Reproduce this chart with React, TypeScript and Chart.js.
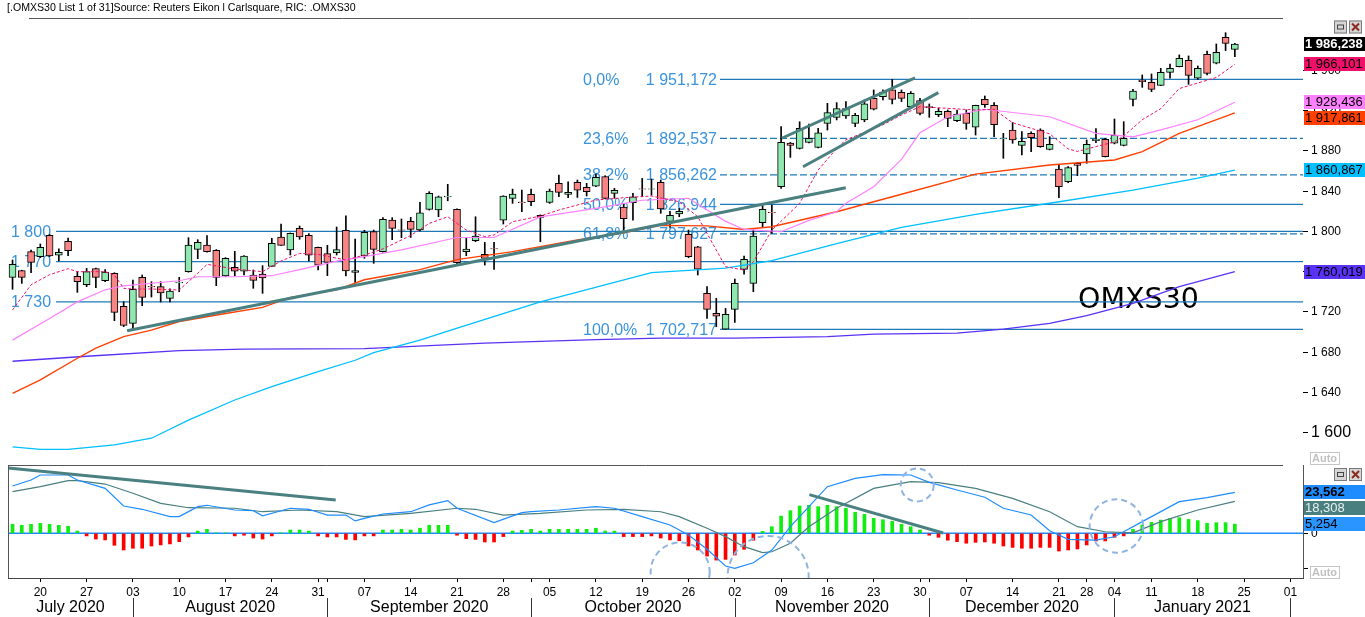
import React, { useEffect, useRef } from 'react';
import { Chart, registerables } from 'chart.js';

Chart.register(...registerables);

// ---------------- categories (trading days) ----------------
const FIRST_DAY = '2020-07-15';
const LAST_AXIS_DAY = '2021-02-03';
const CLOSED_DAYS = ['2020-12-24', '2020-12-25', '2020-12-31', '2021-01-01', '2021-01-06'];
const MONTH_NAMES = ['January', 'February', 'March', 'April', 'May', 'June', 'July', 'August', 'September', 'October', 'November', 'December'];

function buildTradingDays(): string[] {
  const out: string[] = [];
  const d = new Date(FIRST_DAY + 'T00:00:00Z');
  const end = new Date(LAST_AXIS_DAY + 'T00:00:00Z');
  while (d <= end) {
    const wd = d.getUTCDay();
    const iso = d.toISOString().slice(0, 10);
    if (wd !== 0 && wd !== 6 && !CLOSED_DAYS.includes(iso)) out.push(iso);
    d.setUTCDate(d.getUTCDate() + 1);
  }
  return out;
}
const TRADING_DAYS = buildTradingDays();
const X_MIN = -0.49;
const X_MAX = 139.36;

// ---------------- OHLC (index = trading day from 2020-07-15) ----------------
const OPEN = [
  1754.4, 1761.0, 1779.9, 1774.9, 1796.1, 1776.3, 1790.2, 1755.4, 1747.1, 1763.0,
  1751.1, 1758.4, 1725.6, 1708.7, 1754.4, 1745.4, 1745.1, 1733.5, 1749.0, 1760.0,
  1782.2, 1786.5, 1781.2, 1755.7, 1764.3, 1760.4, 1756.7, 1757.7, 1765.3, 1794.5,
  1781.6, 1803.1, 1796.1, 1784.2, 1777.9, 1778.9, 1801.1, 1759.4, 1775.6, 1799.8,
  1779.9, 1811.4, 1801.6, 1810.1, 1801.4, 1821.9, 1821.3, 1834.3, 1821.9, 1779.8,
  1790.8, 1777.2, 1783.0, 1811.3, 1832.9, 1829.1, 1836.8, 1816.0, 1828.9, 1847.8,
  1836.8, 1848.8, 1843.8, 1845.1, 1854.4, 1837.8, 1824.2, 1828.5, 1842.3, 1842.0,
  1848.8, 1810.0, 1817.3, 1797.1, 1784.8, 1738.4, 1718.6, 1703.0, 1722.5, 1762.3,
  1748.4, 1808.7, 1819.1, 1844.4, 1887.8, 1882.5, 1888.5, 1883.5, 1907.4, 1913.4,
  1914.7, 1907.4, 1910.7, 1932.3, 1933.9, 1940.6, 1938.2, 1924.0, 1930.0, 1924.0,
  1916.0, 1919.4, 1910.1, 1917.4, 1903.5, 1931.3, 1925.3, 1892.0, 1900.8, 1885.6,
  1897.5, 1900.8, 1881.6, 1862.0, 1849.5, 1867.7, 1877.0, 1890.2, 1891.5, 1887.6,
  1885.6, 1931.3, 1950.5, 1948.2, 1945.2, 1958.1, 1963.8, 1970.1, 1952.2, 1976.0,
  1967.1, 1992.9, 1981.0,
];
const HIGH = [
  1771.6, 1761.5, 1781.6, 1787.5, 1797.0, 1782.6, 1793.5, 1760.1, 1763.3, 1763.5,
  1762.0, 1759.0, 1730.2, 1751.7, 1756.7, 1750.1, 1750.1, 1743.0, 1754.4, 1793.8,
  1791.8, 1795.8, 1782.0, 1774.0, 1780.2, 1776.0, 1761.7, 1766.0, 1793.2, 1807.4,
  1798.5, 1805.4, 1797.8, 1784.5, 1786.2, 1804.4, 1815.4, 1792.5, 1801.1, 1801.4,
  1813.7, 1813.7, 1812.4, 1814.0, 1828.9, 1839.5, 1835.2, 1846.8, 1822.5, 1793.1,
  1814.6, 1789.1, 1789.1, 1835.5, 1842.1, 1841.1, 1842.1, 1816.5, 1842.1, 1856.0,
  1849.4, 1851.1, 1847.8, 1857.0, 1855.4, 1842.8, 1827.9, 1837.8, 1852.7, 1852.0,
  1851.1, 1820.0, 1822.9, 1801.4, 1785.2, 1745.1, 1733.5, 1723.5, 1752.7, 1775.5,
  1801.4, 1826.2, 1826.2, 1904.1, 1888.5, 1909.0, 1906.7, 1902.4, 1927.3, 1928.0,
  1929.0, 1917.4, 1930.6, 1940.6, 1940.6, 1951.17, 1940.6, 1939.0, 1932.3, 1926.7,
  1922.3, 1920.7, 1920.7, 1920.7, 1925.5, 1934.6, 1928.0, 1897.5, 1908.1, 1899.2,
  1899.0, 1902.0, 1894.2, 1866.7, 1864.4, 1868.7, 1890.9, 1902.1, 1892.5, 1911.7,
  1909.1, 1941.2, 1955.5, 1956.5, 1962.1, 1966.4, 1975.4, 1974.4, 1964.4, 1979.3,
  1986.3, 1997.5, 1986.9,
];
const LOW = [
  1742.5, 1748.4, 1759.0, 1774.0, 1775.0, 1770.6, 1775.9, 1739.5, 1745.1, 1744.1,
  1750.1, 1711.3, 1705.4, 1701.4, 1726.2, 1734.8, 1729.9, 1729.9, 1740.1, 1759.5,
  1772.9, 1779.3, 1746.1, 1755.0, 1755.7, 1756.7, 1743.5, 1738.5, 1765.0, 1786.0,
  1776.6, 1792.2, 1770.6, 1761.7, 1756.1, 1776.6, 1755.7, 1749.4, 1773.3, 1768.3,
  1779.5, 1791.8, 1793.8, 1794.0, 1800.4, 1821.2, 1814.6, 1830.5, 1768.0, 1775.9,
  1789.8, 1766.6, 1762.3, 1807.4, 1827.9, 1819.6, 1825.6, 1789.8, 1827.9, 1834.5,
  1833.5, 1833.8, 1835.2, 1844.4, 1832.5, 1832.9, 1801.4, 1811.3, 1834.5, 1836.0,
  1818.0, 1804.0, 1814.6, 1773.9, 1756.7, 1713.6, 1705.3, 1702.717, 1709.6, 1757.6,
  1740.1, 1804.7, 1798.1, 1842.8, 1873.6, 1881.9, 1888.0, 1883.0, 1900.8, 1910.8,
  1912.4, 1904.1, 1909.0, 1920.7, 1930.6, 1926.7, 1929.0, 1923.3, 1915.7, 1913.4,
  1914.1, 1904.1, 1909.1, 1901.5, 1895.8, 1923.3, 1894.2, 1872.7, 1887.6, 1876.0,
  1879.3, 1883.6, 1881.0, 1833.6, 1848.5, 1855.4, 1867.7, 1888.2, 1874.0, 1887.0,
  1885.0, 1924.7, 1943.2, 1938.9, 1945.0, 1952.2, 1963.5, 1946.2, 1951.2, 1955.5,
  1966.5, 1979.7, 1973.7,
];
const CLOSE = [
  1767.3, 1754.4, 1769.3, 1784.2, 1775.6, 1779.2, 1780.9, 1750.1, 1760.0, 1754.4,
  1759.7, 1719.6, 1706.7, 1742.5, 1734.5, 1744.8, 1738.8, 1740.8, 1749.4, 1786.5,
  1789.2, 1779.9, 1754.4, 1773.3, 1760.4, 1775.6, 1751.4, 1753.7, 1788.2, 1786.2,
  1798.1, 1794.5, 1776.3, 1766.6, 1769.3, 1781.9, 1760.7, 1761.0, 1799.1, 1782.2,
  1812.0, 1803.1, 1801.2, 1802.1, 1818.6, 1837.8, 1834.5, 1834.8, 1768.9, 1782.5,
  1795.4, 1773.2, 1782.6, 1835.2, 1837.2, 1828.7, 1829.5, 1814.0, 1840.1, 1838.8,
  1838.8, 1841.1, 1839.5, 1853.7, 1832.9, 1840.8, 1812.6, 1834.5, 1841.9, 1842.4,
  1822.3, 1816.0, 1819.9, 1774.9, 1762.6, 1722.5, 1715.9, 1717.6, 1748.4, 1772.2,
  1795.4, 1821.9, 1818.7, 1888.5, 1885.5, 1902.4, 1892.5, 1898.1, 1918.0, 1922.0,
  1922.0, 1915.4, 1926.7, 1921.4, 1938.6, 1931.3, 1932.3, 1937.3, 1917.4, 1923.0,
  1919.4, 1912.4, 1916.7, 1907.4, 1925.3, 1926.0, 1906.1, 1892.4, 1890.9, 1889.5,
  1893.2, 1884.2, 1886.6, 1844.5, 1863.4, 1865.7, 1886.6, 1891.9, 1874.3, 1895.5,
  1892.5, 1939.6, 1948.8, 1941.2, 1958.1, 1962.1, 1972.0, 1955.1, 1962.1, 1957.1,
  1978.0, 1986.9, 1986.238,
];

// ---------------- moving averages, read as [day index, value] ----------------
const MA_FAST: [number, number][] = [
  [0, 1722], [2, 1747], [4, 1757], [6, 1763], [7, 1760], [10, 1760], [11, 1756.7], [12, 1743.5], [13, 1742.8],
  [15, 1742.8], [18, 1741.8], [20, 1758.4], [21, 1767.3], [24, 1762.7], [27, 1760], [29, 1770.6], [31, 1778.2],
  [33, 1777.2], [36, 1771.6], [38, 1776.6], [40, 1782.6], [43, 1796], [45, 1808], [47, 1814.6], [49, 1801.4],
  [51, 1794.8], [52, 1796.4], [54, 1809.7], [57, 1815.3], [59, 1821.3], [63, 1831.2], [66, 1833.5], [69, 1835.2],
  [72, 1829.5], [74, 1814.6], [76, 1781.5], [77, 1765], [79, 1761.6], [80, 1769.9], [82, 1801.4], [85, 1827.9],
  [87, 1861], [89, 1882.5], [90, 1891], [94, 1906], [96, 1915.7], [98, 1924], [101, 1922.3], [104, 1920.7],
  [106, 1921.3], [108, 1908], [112, 1897], [114, 1882], [115, 1879.5], [117, 1884.3], [119, 1889], [120, 1894.8],
  [122, 1911], [124, 1922], [126, 1942], [128, 1947.5], [130, 1953], [132, 1966.101],
];
const MA_20: [number, number][] = [
  [0, 1692], [4, 1713.5], [7, 1730], [10, 1742], [12, 1746], [18, 1751], [20, 1755], [24, 1755], [28, 1756],
  [31, 1762], [35, 1770.5], [38, 1775], [42, 1781.6], [48, 1794], [52, 1794], [57, 1814.5], [63, 1823], [68, 1831],
  [73, 1833], [77, 1810], [79, 1802], [83, 1799.7], [86, 1811], [89, 1819.6], [90, 1828], [93, 1844.5], [96, 1871.6],
  [98, 1898], [101, 1914], [105, 1921.4], [112, 1914], [117, 1897.5], [121, 1894], [124, 1901], [128, 1911],
  [132, 1928.436],
];
const MA_50: [number, number][] = [
  [0, 1639], [3, 1652.5], [7, 1674], [9, 1684], [12, 1695.5], [15, 1702], [18, 1710.5], [23, 1718.5], [27, 1724.5],
  [30, 1734.5], [35, 1742], [38, 1752], [44, 1762], [48, 1772], [54, 1780], [61, 1791.5], [66, 1798.7], [70, 1806],
  [75, 1805.5], [79, 1802], [82, 1804.7], [89, 1819.6], [95, 1834.5], [104, 1857], [112, 1866], [119, 1871],
  [122, 1879.3], [126, 1897.5], [132, 1917.861],
];
const MA_100: [number, number][] = [
  [0, 1586], [3, 1583.5], [6, 1583.5], [11, 1588], [15, 1594.5], [19, 1612.5], [24, 1632.5], [28, 1645.7],
  [33, 1660.7], [37, 1672], [39, 1679.5], [44, 1692], [47, 1701], [57, 1730], [69, 1759], [77, 1763.5], [82, 1771],
  [89, 1788], [96, 1804], [104, 1817], [112, 1828], [121, 1841], [128, 1853], [132, 1860.867],
];
const MA_200: [number, number][] = [
  [0, 1671], [8, 1676], [18, 1681.5], [25, 1683], [38, 1683.5], [45, 1686.5], [51, 1689], [63, 1692.5], [70, 1694],
  [78, 1694], [88, 1695.5], [93, 1698], [102, 1699], [107, 1703], [112, 1708.7], [116, 1716.3], [121, 1728.6],
  [126, 1745.2], [132, 1760.019],
];

// ---------------- MACD ----------------
const MACD_LINE: [number, number][] = [
  [0, 27.2], [2, 30.6], [3, 33.5], [6, 33.5], [7, 30.6], [10, 25.8], [12, 15.7], [14, 13.8], [17, 9.6], [18, 9.6],
  [20, 15.3], [21, 16.1], [24, 13.4], [26, 13], [27, 10], [30, 14.4], [32, 13.8], [34, 10.5], [36, 10.5], [37, 7.1],
  [38, 8.6], [40, 11.1], [43, 12.4], [45, 16.3], [47, 18.8], [48, 14.4], [52, 6.1], [55, 11.9], [56, 12.4], [59, 13.4],
  [63, 15.3], [65, 14.4], [68, 9.6], [71, 4.8], [73, -1], [75, -9.2], [77, -18.8], [78, -20.1], [80, -16.9], [82, -9.6],
  [84, 3.8], [86, 15.3], [88, 26.8], [91, 31.6], [94, 33.7], [97, 33.5], [99, 29.3], [102, 24.9], [105, 20.7],
  [107, 14.4], [110, 10.5], [112, 1.5], [114, -3.5], [117, -3.9], [119, -2], [120, 0.9], [122, 6.7], [126, 18.2],
  [129, 20.5], [132, 23.562],
];
const MACD_SIGNAL: [number, number][] = [
  [0, 23.9], [3, 26.8], [6, 30.3], [7, 30.3], [10, 28.3], [13, 23], [16, 17.2], [19, 14.7], [24, 14.4], [27, 12.4],
  [31, 13.4], [35, 12.4], [38, 9.6], [43, 11.5], [48, 14.4], [50, 13.8], [53, 10.5], [57, 11.5], [62, 13.4], [66, 13.8],
  [70, 12.4], [72, 9.6], [75, 2.9], [77, -1.9], [79, -7.7], [81, -11.1], [82, -10.6], [84, -5.7], [86, 3.8], [89, 14.4],
  [93, 25.8], [97, 29.7], [100, 29.1], [104, 25.8], [108, 20.1], [112, 12.4], [115, 3.8], [118, 0.9], [121, 0.3],
  [124, 6.7], [128, 13.4], [132, 18.308],
];
const MACD_HIST = [
  5.2, 4.6, 5.2, 5.7, 5.2, 4.6, 4.0, 1.3, -1.5, -3.3, -3.8, -6.9, -9.6, -8.6, -8.6, -7.3, -6.7, -6.1, -4.8, -2.1,
  1.3, 2.3, 0.3, 0.2, -1.5, -1.1, -2.7, -3.3, -1.5, 0.2, 1.9, 1.9, 1.3, -1.5, -2.1, -2.1, -3.5, -3.8, -1.5, -1.5,
  1.9, 1.9, 2.3, 1.9, 2.9, 4.6, 4.6, 4.6, -1.1, -3.1, -3.5, -5.0, -5.0, -1.9, 1.3, 1.7, 2.3, 1.3, 2.3, 2.3,
  2.3, 2.3, 2.3, 2.9, 1.3, 1.3, -1.9, -1.9, -1.9, -1.5, -2.7, -3.8, -4.3, -7.3, -9.6, -13.1, -15.4, -15.0, -12.5, -9.2,
  -4.0, 1.1, 3.8, 9.9, 13.0, 15.7, 16.1, 15.3, 16.1, 15.3, 14.4, 12.1, 10.9, 8.6, 7.8, 6.9, 5.2, 3.8, 1.9, -1.1,
  -2.3, -4.0, -4.8, -5.7, -5.2, -5.0, -5.7, -7.3, -8.1, -8.6, -8.6, -8.1, -8.1, -10.2, -9.6, -9.0, -6.7, -4.4, -4.4, -2.3,
  -1.5, 2.3, 4.8, 6.3, 7.6, 8.4, 9.0, 8.0, 7.3, 5.7, 6.1, 6.1, 5.254,
];

// ---------------- drawn studies ----------------
const FIB_PCT = ['0,0%', '23,6%', '38,2%', '50,0%', '61,8%', '100,0%'];
const FIB_VALUES = [1951.172, 1892.537, 1856.262, 1826.944, 1797.627, 1702.717];
const FIB_DASHED = [false, true, true, false, true, false];
const FIB_START = 76.4;
const LEVELS = [1800, 1770, 1730];
const LEVEL_START = 4.7;
const TREND_MAIN: [number, number][][] = [
  [[12.37, 1701.3], [89.98, 1843.5]],
  [[83.07, 1892.6], [97.46, 1952.5]],
  [[85.37, 1864.3], [99.98, 1937.9]],
];
const TREND_MACD: [number, number][][] = [
  [[-0.49, 37.5], [34.9, 19.1]],
  [[86.05, 22.2], [100.5, 0.2]],
];
// [day index, macd value, radius px]
const CIRCLES: [number, number, number][] = [
  [72.1, -22.2, 29.5], [81.6, -24.8, 40.5], [97.7, 27.8, 16.5], [119.2, 4.2, 26.7],
];
const MAIN_TICKS = [1600, 1640, 1680, 1720, 1760, 1800, 1840, 1880, 1920, 1960];
const MACD_TICKS = [-20, 0, 20];
const TITLE = '[.OMXS30 List 1 of 31]Source: Reuters Eikon l Carlsquare, RIC: .OMXS30';
const CHART_NAME = 'OMXS30';

// ---------------- styles ----------------
const FONT = '"Liberation Sans", Arial, sans-serif';
const GREEN_BODY = '#8ee8b0';
const RED_BODY = '#f88484';
const FIB_LINE = '#1f7ab8';
const FIB_TEXT = '#3a93dc';
const TREND = '#4a8080';
const C_FAST = '#f0106a';
const C_20 = '#ff80ff';
const C_50 = '#ff4000';
const C_100 = '#00bfff';
const C_200 = '#5a32f5';
const C_MACD = '#1e8cff';
const C_SIGNAL = '#4a7f7f';

function formatSE(v: number, decimals: number): string {
  const s = v.toFixed(decimals);
  const [int, frac] = s.split('.');
  const intS = int.replace(/\B(?=(\d{3})+(?!\d))/g, ' ');
  return frac ? intS + ',' + frac : intS;
}

const pts = (arr: [number, number][]) => arr.map(([x, y]) => ({ x, y }));

function lineDs(data: any[], color: string, width: number, order: number, dash: number[] = []) {
  return {
    type: 'line' as const,
    data,
    borderColor: color,
    borderWidth: width,
    borderDash: dash,
    pointRadius: 0,
    fill: false,
    tension: 0,
    order,
  };
}

function noPad(s: any) {
  s.paddingTop = 0;
  s.paddingBottom = 0;
  s.paddingLeft = 0;
  s.paddingRight = 0;
}

function drawTags(ctx: CanvasRenderingContext2D, x0: number, tags: { y: number; text: string; bg: string; fg: string; bold: boolean }[], gap: number) {
  const sorted = [...tags].sort((a, b) => a.y - b.y);
  let last = -1e9;
  sorted.forEach((t) => {
    const yy = Math.max(t.y, last + gap);
    last = yy;
    ctx.fillStyle = t.bg;
    ctx.fillRect(x0, Math.round(yy - 7), 62, 14);
    ctx.fillStyle = t.fg;
    ctx.font = `${t.bold ? 'bold ' : ''}13px ${FONT}`;
    ctx.textAlign = 'left';
    ctx.textBaseline = 'middle';
    ctx.fillText(t.text, x0 + 1, yy + 0.5);
  });
}

function drawButtons(ctx: CanvasRenderingContext2D, x: number, y: number) {
  ctx.save();
  ctx.lineWidth = 1;
  ctx.fillStyle = '#d6d6d6';
  ctx.fillRect(x, y, 13, 13);
  ctx.strokeStyle = '#7a7a7a';
  ctx.strokeRect(x + 0.5, y + 0.5, 12, 12);
  ctx.strokeStyle = '#444';
  ctx.strokeRect(x + 3.5, y + 4.5, 6, 4);
  const x2 = x + 15;
  ctx.fillStyle = '#d6d6d6';
  ctx.fillRect(x2, y, 13, 13);
  ctx.strokeStyle = '#7a7a7a';
  ctx.strokeRect(x2 + 0.5, y + 0.5, 12, 12);
  ctx.strokeStyle = '#8a2a20';
  ctx.lineWidth = 2;
  ctx.beginPath();
  ctx.moveTo(x2 + 3, y + 3);
  ctx.lineTo(x2 + 10, y + 10);
  ctx.moveTo(x2 + 10, y + 3);
  ctx.lineTo(x2 + 3, y + 10);
  ctx.stroke();
  ctx.restore();
}

function drawAuto(ctx: CanvasRenderingContext2D, x: number, y: number) {
  ctx.save();
  ctx.strokeStyle = '#c4c4c4';
  ctx.lineWidth = 1;
  ctx.strokeRect(x + 0.5, y + 0.5, 29, 12);
  ctx.fillStyle = '#c0c0c0';
  ctx.font = `bold 11px ${FONT}`;
  ctx.textAlign = 'left';
  ctx.textBaseline = 'middle';
  ctx.fillText('Auto', x + 2, y + 7);
  ctx.restore();
}

function mainConfig(): any {
  const bodies = CLOSE.map((c, i) => ({ x: i, y: [OPEN[i], c] }));
  const bodyColors = CLOSE.map((c, i) => (c >= OPEN[i] ? GREEN_BODY : RED_BODY));
  const wicks = HIGH.map((h, i) => ({ x: i, y: [LOW[i], h] }));

  const datasets: any[] = [];
  TREND_MAIN.forEach((seg) => datasets.push(lineDs(pts(seg), TREND, 3, 0)));
  datasets.push(lineDs(pts(MA_FAST), C_FAST, 1, 1, [3, 2]));
  datasets.push(lineDs(pts(MA_20), C_20, 1.2, 1));
  datasets.push(lineDs(pts(MA_50), C_50, 1.4, 1));
  datasets.push(lineDs(pts(MA_100), C_100, 1.3, 1));
  datasets.push(lineDs(pts(MA_200), C_200, 1.3, 1));
  datasets.push({
    type: 'bar', data: bodies, backgroundColor: bodyColors, borderColor: '#000', borderWidth: 1,
    borderSkipped: false, barThickness: 7, grouped: false, order: 2,
  });
  datasets.push({
    type: 'bar', data: wicks, backgroundColor: '#000', borderWidth: 0, barThickness: 1, grouped: false, order: 3,
  });
  FIB_VALUES.forEach((v, k) =>
    datasets.push(lineDs([{ x: FIB_START, y: v }, { x: X_MAX, y: v }], FIB_LINE, 1.3, 4, FIB_DASHED[k] ? [7, 3] : [])),
  );
  LEVELS.forEach((v) => datasets.push(lineDs([{ x: LEVEL_START, y: v }, { x: X_MAX, y: v }], FIB_LINE, 1.3, 4)));

  const overlay = {
    id: 'mainOverlay',
    beforeDatasetsDraw(chart: any) {
      const { ctx, scales } = chart;
      const x = scales.x, y = scales.y;
      ctx.save();
      ctx.fillStyle = FIB_TEXT;
      ctx.font = `16px ${FONT}`;
      ctx.textBaseline = 'middle';
      const fx = x.getPixelForValue(FIB_START);
      FIB_VALUES.forEach((v, k) => {
        const py = y.getPixelForValue(v) + 1;
        ctx.textAlign = 'left';
        ctx.fillText(FIB_PCT[k], fx - 137, py);
        ctx.textAlign = 'right';
        ctx.fillText(formatSE(v, 3), fx - 3, py);
      });
      ctx.textAlign = 'left';
      LEVELS.forEach((v) => {
        ctx.fillText(formatSE(v, 0), 11, y.getPixelForValue(v) + 1);
      });
      ctx.fillStyle = '#000';
      ctx.font = `28.5px "DejaVu Sans", ${FONT}`;
      ctx.textBaseline = 'alphabetic';
      ctx.fillText(CHART_NAME, 1078, 308);
      ctx.restore();
    },
    afterDraw(chart: any) {
      const { ctx, chartArea, scales } = chart;
      const y = scales.y;
      ctx.save();
      ctx.fillStyle = '#000';
      ctx.font = `10.6px ${FONT}`;
      ctx.textAlign = 'left';
      ctx.textBaseline = 'middle';
      ctx.fillText(TITLE, 7, 8);
      ctx.strokeStyle = '#555';
      ctx.lineWidth = 1;
      ctx.beginPath();
      ctx.moveTo(29, chartArea.top + 0.5);
      ctx.lineTo(1283, chartArea.top + 0.5);
      ctx.stroke();
      const lastClose = CLOSE[CLOSE.length - 1];
      const lastOf = (a: [number, number][]) => a[a.length - 1][1];
      drawTags(ctx, chartArea.right + 1, [
        { y: y.getPixelForValue(lastClose), text: formatSE(lastClose, 3), bg: '#000', fg: '#fff', bold: true },
        { y: y.getPixelForValue(lastOf(MA_FAST)), text: formatSE(lastOf(MA_FAST), 3), bg: C_FAST, fg: '#000', bold: false },
        { y: y.getPixelForValue(lastOf(MA_20)), text: formatSE(lastOf(MA_20), 3), bg: C_20, fg: '#000', bold: false },
        { y: y.getPixelForValue(lastOf(MA_50)), text: formatSE(lastOf(MA_50), 3), bg: C_50, fg: '#000', bold: false },
        { y: y.getPixelForValue(lastOf(MA_100)), text: formatSE(lastOf(MA_100), 3), bg: C_100, fg: '#000', bold: false },
        { y: y.getPixelForValue(lastOf(MA_200)), text: formatSE(lastOf(MA_200), 3), bg: C_200, fg: '#000', bold: false },
      ], 16);
      drawButtons(ctx, 1334, chartArea.top + 2.5);
      drawAuto(ctx, 1310, chartArea.bottom - 11);
      ctx.restore();
    },
  };

  return {
    type: 'bar',
    data: { datasets },
    options: {
      animation: false,
      responsive: false,
      maintainAspectRatio: false,
      layout: { padding: { left: 8, top: 18, right: 0, bottom: 2 } },
      plugins: { legend: { display: false }, tooltip: { enabled: false } },
      scales: {
        x: { type: 'linear', min: X_MIN, max: X_MAX, display: false, offset: false, grid: { offset: false } },
        y: {
          type: 'linear',
          position: 'right',
          min: 1569.9,
          max: 2012.1,
          afterFit: (s: any) => { s.width = 62; noPad(s); },
          afterBuildTicks: (s: any) => { s.ticks = MAIN_TICKS.map((v) => ({ value: v })); },
          grid: { drawOnChartArea: false, drawTicks: true, tickLength: 5, color: '#000' },
          border: { display: false },
          ticks: {
            color: '#000',
            padding: 3,
            font: (c: any) => ({ family: FONT, size: c.tick && c.tick.value === 1600 ? 16 : 12 }),
            callback: (v: any) => formatSE(Number(v), 0),
          },
        },
      },
    },
    plugins: [overlay],
  };
}

function macdConfig(): any {
  const tickIdx: number[] = [];
  const labelMap: Record<number, string> = {};
  const monthStarts: number[] = [];
  TRADING_DAYS.forEach((iso, i) => {
    if (i > X_MAX) return;
    const d = new Date(iso + 'T00:00:00Z');
    const prev = i > 0 ? new Date(TRADING_DAYS[i - 1] + 'T00:00:00Z') : null;
    const isMonthStart = prev !== null && prev.getUTCMonth() !== d.getUTCMonth();
    const isMonday = d.getUTCDay() === 1;
    if (isMonthStart) monthStarts.push(i);
    if (isMonday || isMonthStart) {
      tickIdx.push(i);
      labelMap[i] = isMonday ? String(d.getUTCDate()).padStart(2, '0') : '';
    }
  });
  const monthBounds = [X_MIN, ...monthStarts];
  const monthLabels = monthBounds.slice(0, -1).map((b, k) => {
    const d = new Date(TRADING_DAYS[Math.max(0, Math.ceil(b))] + 'T00:00:00Z');
    return { from: b, to: monthBounds[k + 1], text: `${MONTH_NAMES[d.getUTCMonth()]} ${d.getUTCFullYear()}` };
  });

  const datasets: any[] = [];
  TREND_MACD.forEach((seg) => datasets.push(lineDs(pts(seg), TREND, 3, 0)));
  datasets.push(lineDs(pts(MACD_LINE), C_MACD, 1.2, 1));
  datasets.push(lineDs(pts(MACD_SIGNAL), C_SIGNAL, 1.2, 1));
  datasets.push(lineDs([{ x: X_MIN, y: 0 }, { x: X_MAX, y: 0 }], C_MACD, 1.5, 3));
  datasets.push({
    type: 'bar',
    data: MACD_HIST.map((v, i) => ({ x: i, y: v })),
    backgroundColor: MACD_HIST.map((v) => (v >= 0 ? '#10ee10' : '#ff0000')),
    borderWidth: 0,
    barThickness: 3,
    grouped: false,
    order: 2,
  });

  const overlay = {
    id: 'macdOverlay',
    afterDatasetsDraw(chart: any) {
      const { ctx, chartArea, scales } = chart;
      const x = scales.x, y = scales.y;
      ctx.save();
      ctx.beginPath();
      ctx.rect(chartArea.left, chartArea.top, chartArea.right - chartArea.left, chartArea.bottom - chartArea.top);
      ctx.clip();
      ctx.strokeStyle = '#8fb4e0';
      ctx.lineWidth = 2;
      ctx.setLineDash([6, 4]);
      CIRCLES.forEach(([ci, cm, r]) => {
        ctx.beginPath();
        ctx.arc(x.getPixelForValue(ci), y.getPixelForValue(cm), r, 0, Math.PI * 2);
        ctx.stroke();
      });
      ctx.restore();
    },
    afterDraw(chart: any) {
      const { ctx, chartArea, scales, height } = chart;
      const x = scales.x, y = scales.y;
      ctx.save();
      ctx.strokeStyle = '#555';
      ctx.lineWidth = 1;
      ctx.beginPath();
      ctx.moveTo(chartArea.left + 0.5, chartArea.top);
      ctx.lineTo(chartArea.left + 0.5, chartArea.bottom);
      ctx.moveTo(chartArea.right + 0.5, chartArea.top);
      ctx.lineTo(chartArea.right + 0.5, chartArea.bottom);
      ctx.moveTo(chartArea.left, chartArea.top + 0.5);
      ctx.lineTo(1283, chartArea.top + 0.5);
      ctx.stroke();

      const lastOf = (a: [number, number][]) => a[a.length - 1][1];
      const h = MACD_HIST[MACD_HIST.length - 1];
      drawTags(ctx, chartArea.right + 1, [
        { y: y.getPixelForValue(lastOf(MACD_LINE)), text: formatSE(lastOf(MACD_LINE), 3), bg: C_MACD, fg: '#000', bold: true },
        { y: y.getPixelForValue(lastOf(MACD_SIGNAL)), text: formatSE(lastOf(MACD_SIGNAL), 3), bg: C_SIGNAL, fg: '#e8f0f0', bold: false },
        { y: y.getPixelForValue(h), text: formatSE(h, 3), bg: '#2a95ff', fg: '#000', bold: false },
      ], 15.5);
      drawButtons(ctx, 1334, chartArea.top + 3);
      drawAuto(ctx, 1310, chartArea.bottom - 12);

      ctx.strokeStyle = '#333';
      ctx.lineWidth = 1;
      monthStarts.forEach((i) => {
        const px = Math.round(x.getPixelForValue(i)) + 0.5;
        ctx.beginPath();
        ctx.moveTo(px, chartArea.bottom + 20);
        ctx.lineTo(px, height);
        ctx.stroke();
      });
      ctx.fillStyle = '#000';
      ctx.font = `16px ${FONT}`;
      ctx.textAlign = 'center';
      ctx.textBaseline = 'middle';
      monthLabels.forEach((m) => {
        const px = (x.getPixelForValue(m.from) + x.getPixelForValue(m.to)) / 2;
        ctx.fillText(m.text, px, chartArea.bottom + 30);
      });
      ctx.restore();
    },
  };

  return {
    type: 'bar',
    data: { datasets },
    options: {
      animation: false,
      responsive: false,
      maintainAspectRatio: false,
      layout: { padding: { left: 8, top: 7, right: 0, bottom: 0 } },
      plugins: { legend: { display: false }, tooltip: { enabled: false } },
      scales: {
        x: {
          type: 'linear',
          min: X_MIN,
          max: X_MAX,
          offset: false,
          position: 'bottom',
          afterFit: (s: any) => { s.height = 39; noPad(s); },
          afterBuildTicks: (s: any) => { s.ticks = tickIdx.map((v) => ({ value: v })); },
          grid: { offset: false, drawOnChartArea: false, drawTicks: true, tickLength: 4, color: '#000' },
          border: { display: true, color: '#444' },
          ticks: {
            autoSkip: false,
            maxRotation: 0,
            minRotation: 0,
            padding: 3,
            color: '#000',
            font: { family: FONT, size: 12 },
            callback: (v: any) => labelMap[Number(v)] ?? '',
          },
        },
        y: {
          type: 'linear',
          position: 'right',
          min: -25.69,
          max: 39.25,
          afterFit: (s: any) => { s.width = 62; noPad(s); },
          afterBuildTicks: (s: any) => { s.ticks = MACD_TICKS.map((v) => ({ value: v })); },
          grid: { drawOnChartArea: false, drawTicks: true, tickLength: 5, color: '#000' },
          border: { display: false },
          ticks: {
            color: '#000',
            padding: 3,
            font: { family: FONT, size: 12 },
            callback: (v: any) => (Number(v) === 0 ? '0' : ''),
          },
        },
      },
    },
    plugins: [overlay],
  };
}

export default function App() {
  const mainRef = useRef<HTMLCanvasElement>(null);
  const macdRef = useRef<HTMLCanvasElement>(null);
  useEffect(() => {
    const main = new Chart(mainRef.current as HTMLCanvasElement, mainConfig());
    const macd = new Chart(macdRef.current as HTMLCanvasElement, macdConfig());
    return () => {
      main.destroy();
      macd.destroy();
    };
  }, []);
  return (
    <div style={{ position: 'absolute', left: 0, top: 0, width: 1365, height: 617, background: '#fff', overflow: 'hidden' }}>
      <canvas ref={mainRef} width={1365} height={465} style={{ position: 'absolute', left: 0, top: 0, width: 1365, height: 465 }} />
      <canvas ref={macdRef} width={1365} height={159} style={{ position: 'absolute', left: 0, top: 458, width: 1365, height: 159 }} />
    </div>
  );
}
